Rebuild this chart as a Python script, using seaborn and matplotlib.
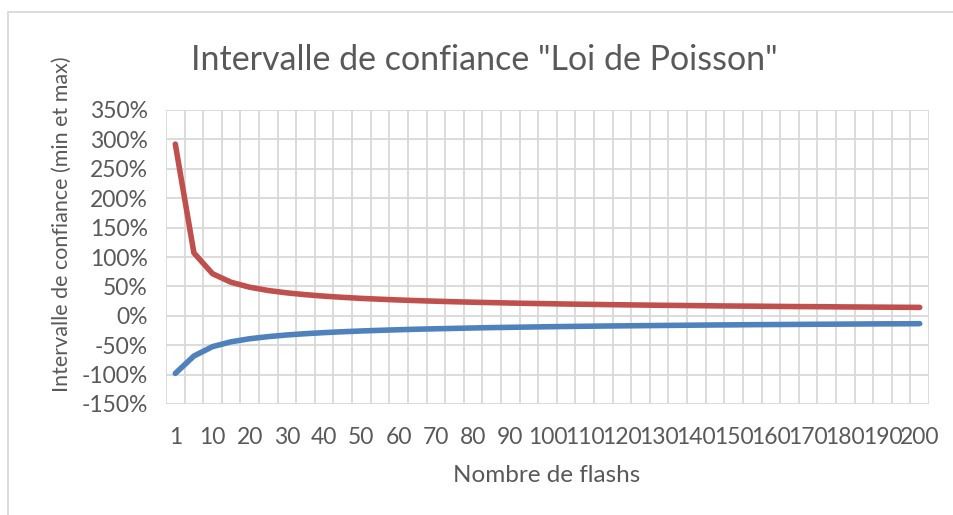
import matplotlib
matplotlib.use("Agg")
import matplotlib.pyplot as plt
import seaborn as sns
import pandas as pd
from matplotlib.ticker import FuncFormatter, MultipleLocator
from matplotlib.patches import Rectangle

# ---- data ----
categories = [1, 5, 10, 15, 20, 25, 30, 35, 40, 45, 50, 55, 60, 65, 70, 75, 80, 85, 90, 95,
              100, 105, 110, 115, 120, 125, 130, 135, 140, 145, 150, 155, 160, 165, 170, 175,
              180, 185, 190, 195, 200]
upper = [2.92, 1.069, 0.716, 0.570, 0.486, 0.430, 0.390, 0.359, 0.334, 0.314, 0.296, 0.282,
         0.269, 0.258, 0.248, 0.239, 0.231, 0.224, 0.217, 0.211, 0.206, 0.200, 0.196, 0.191,
         0.187, 0.183, 0.179, 0.176, 0.173, 0.169, 0.166, 0.164, 0.161, 0.158, 0.156, 0.154,
         0.151, 0.149, 0.147, 0.145, 0.143]
lower = [-0.98, -0.684, -0.524, -0.442, -0.390, -0.354, -0.326, -0.304, -0.286, -0.271, -0.258,
         -0.247, -0.237, -0.228, -0.221, -0.214, -0.207, -0.201, -0.196, -0.191, -0.186, -0.182,
         -0.178, -0.174, -0.171, -0.168, -0.165, -0.162, -0.159, -0.156, -0.154, -0.151, -0.149,
         -0.147, -0.145, -0.143, -0.141, -0.139, -0.137, -0.136, -0.134]
tick_labels = [str(c) for c in categories[::2]]
title = 'Intervalle de confiance "Loi de Poisson"'
xlabel = "Nombre de flashs"
ylabel = "Intervalle de confiance (min et max)"

df = pd.DataFrame({"idx": range(len(categories)), "cat": categories,
                   "upper": upper, "lower": lower})

sns.set_theme(style="white")
plt.rcParams["font.family"] = ["Lato", "DejaVu Sans"]
text_color = "#595959"
grid_color = "#d9d9d9"

W, H = 954, 515
fig = plt.figure(figsize=(W / 100, H / 100), dpi=100)
ax = fig.add_axes([166 / W, 1 - 404 / H, (929 - 166) / W, (404 - 110) / H])

sns.lineplot(data=df, x="idx", y="upper", ax=ax, color="#C0504D", linewidth=4.0,
             solid_capstyle="round", solid_joinstyle="round", zorder=3)
sns.lineplot(data=df, x="idx", y="lower", ax=ax, color="#4F81BD", linewidth=4.0,
             solid_capstyle="round", solid_joinstyle="round", zorder=3)

n = len(categories)
ax.set_xlim(-0.5, n - 0.5)
ax.set_ylim(-1.5, 3.5)
ax.yaxis.set_major_locator(MultipleLocator(0.5))
ax.yaxis.set_major_formatter(FuncFormatter(lambda v, p: f"{v*100:.0f}%"))
ax.set_xticks(list(range(0, n, 2)))
ax.set_xticklabels(tick_labels)
ax.set_xticks([i - 0.5 for i in range(n + 1)], minor=True)

ax.grid(True, which="major", axis="y", color=grid_color, linewidth=1.3, zorder=0)
ax.grid(True, which="minor", axis="x", color=grid_color, linewidth=1.3, zorder=0)
ax.grid(False, which="major", axis="x")
for s in ax.spines.values():
    s.set_visible(False)
ax.tick_params(axis="both", which="both", length=0, labelsize=16.5, colors=text_color)
ax.tick_params(axis="x", pad=16.5)
ax.tick_params(axis="y", pad=13)
ax.set_xlabel("")
ax.set_ylabel("")

fig.text(547 / W, 1 - 475 / H, xlabel, ha="center", va="center", fontsize=17.5, color=text_color)
fig.text(62 / W, 1 - 224 / H, ylabel, ha="center", va="center", rotation=90,
         fontsize=15.5, color=text_color)
fig.text(484 / W, 1 - 60 / H, title, ha="center", va="center", fontsize=24.5, color=text_color)

fig.patches.append(Rectangle((8 / W, -0.05), 1.1, 1 - 12 / H + 0.05, transform=fig.transFigure,
                             fill=False, edgecolor=grid_color, linewidth=1.3))

fig.savefig("out.png", dpi=100, facecolor="white")
